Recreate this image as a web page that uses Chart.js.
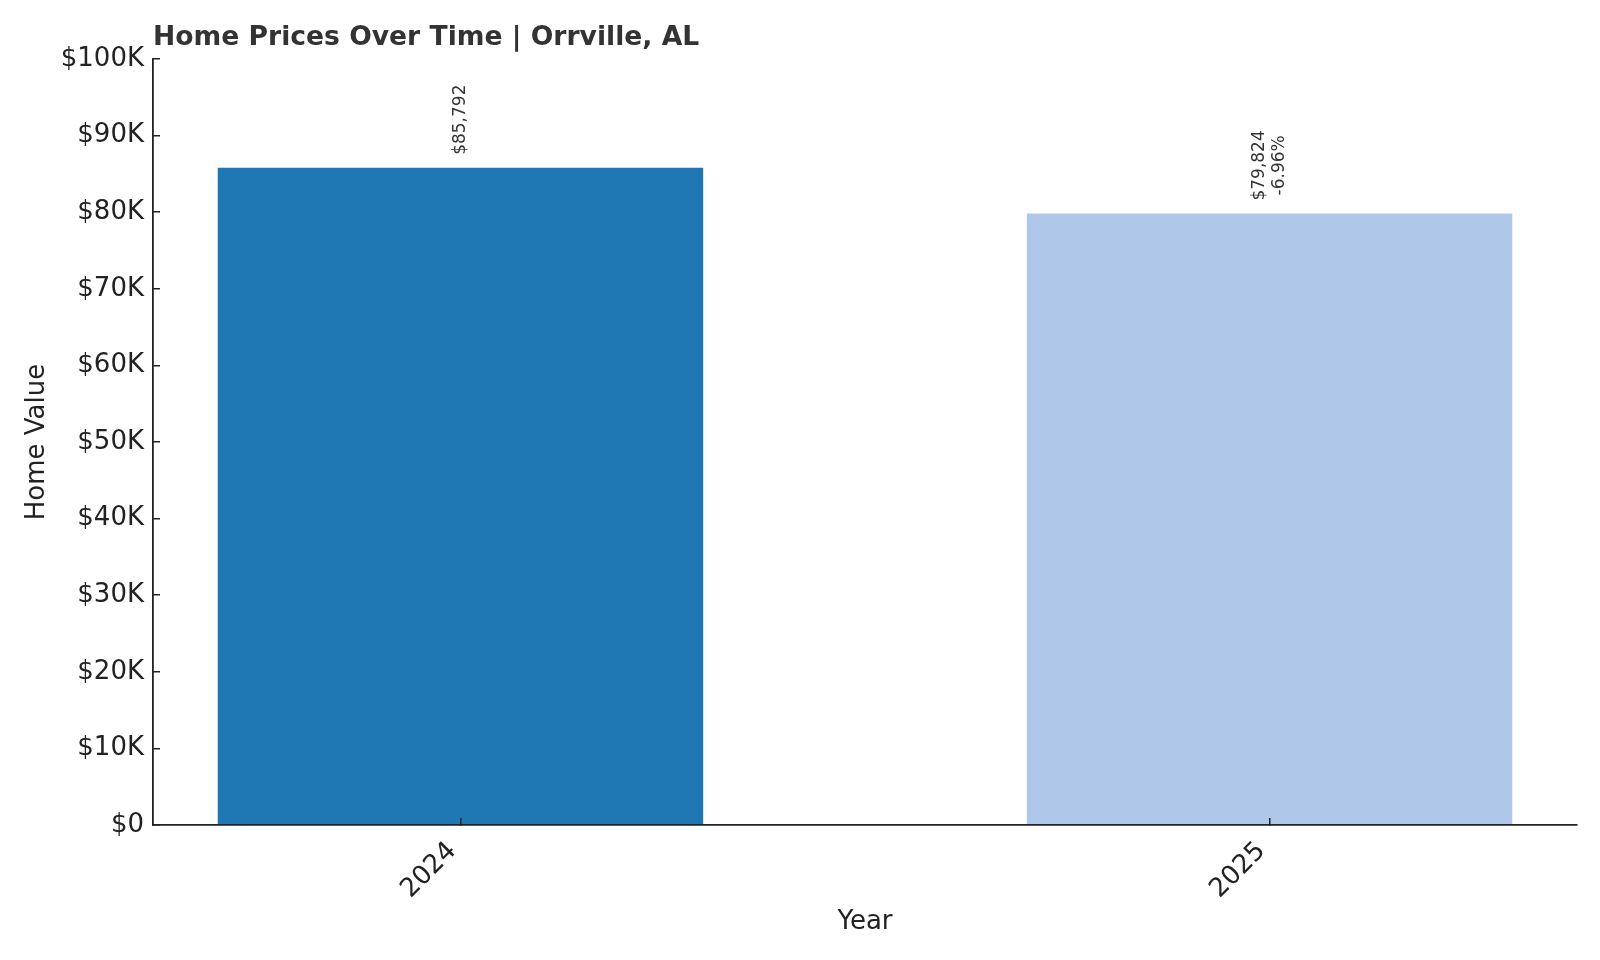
<!DOCTYPE html>
<html>
<head>
<meta charset="utf-8">
<title>Home Prices Over Time | Orrville, AL</title>
<script src="https://cdn.jsdelivr.net/npm/chart.js@4.4.1/dist/chart.umd.min.js"></script>
<style>
  html, body { margin: 0; padding: 0; background: #fff; }
</style>
</head>
<body>
<canvas id="priceChart" width="1600" height="960"></canvas>
<script>
// Chart data
const chartTitle = 'Home Prices Over Time | Orrville, AL';
const years = ['2024', '2025'];
const homeValues = [85792, 79824];
const changeLabels = ['', '-6.96%'];
const barColors = ['#1f77b4', '#aec7e8'];
const yTickLabels = ['$0', '$10K', '$20K', '$30K', '$40K', '$50K', '$60K', '$70K', '$80K', '$90K', '$100K'];

const FONT = 'DejaVu Sans';
const INK = '#222222';

// Title drawn flush with the left edge of the plot area
const titlePlugin = {
    id: 'leftTitle',
    afterDraw(chart) {
        const ctx = chart.ctx;
        ctx.save();
        ctx.font = `bold 26.6px "${FONT}"`;
        ctx.fillStyle = '#333333';
        ctx.textAlign = 'left';
        ctx.textBaseline = 'alphabetic';
        ctx.fillText(chartTitle, chart.chartArea.left, 45);
        ctx.restore();
    }
};

// Rotated value labels above each bar
const barLabels = {
    id: 'barLabels',
    afterDatasetsDraw(chart) {
        const ctx = chart.ctx;
        const meta = chart.getDatasetMeta(0);
        ctx.save();
        ctx.font = `17px "${FONT}"`;
        ctx.fillStyle = '#333333';
        ctx.textAlign = 'center';
        ctx.textBaseline = 'middle';
        meta.data.forEach((bar, i) => {
            const lines = ['$' + homeValues[i].toLocaleString('en-US')];
            if (changeLabels[i]) lines.push(changeLabels[i]);
            const w = Math.max(...lines.map(t => ctx.measureText(t).width));
            ctx.save();
            ctx.translate(bar.x, bar.y - 13);
            ctx.rotate(-Math.PI / 2);
            lines.forEach((t, j) => {
                ctx.fillText(t, w / 2, (j - (lines.length - 1) / 2) * 19.5);
            });
            ctx.restore();
        });
        ctx.restore();
    }
};

const tickFont = { family: FONT, size: 26 };

new Chart(document.getElementById('priceChart'), {
    type: 'bar',
    data: {
        datasets: [{
            data: homeValues.map((v, i) => ({ x: i, y: v })),
            backgroundColor: barColors,
            borderWidth: 0,
            categoryPercentage: 1,
            barPercentage: 0.6
        }]
    },
    options: {
        responsive: false,
        animation: false,
        events: [],
        layout: { padding: { top: 59, right: 23, bottom: 0, left: 0 } },
        plugins: {
            legend: { display: false },
            title: { display: false },
            tooltip: { enabled: false }
        },
        scales: {
            x: {
                type: 'linear',
                min: -0.38,
                max: 1.38,
                offset: false,
                afterFit: s => { s.height = 135; },
                // z: 1 so the short inward ticks and the spine sit on top of the bars
                grid: { drawOnChartArea: false, offset: false, tickLength: -7, color: INK, lineWidth: 1.5, z: 1 },
                border: { display: true, color: INK, width: 1.8, z: 1 },
                ticks: {
                    stepSize: 1,
                    includeBounds: false,
                    autoSkip: false,
                    maxRotation: 45,
                    minRotation: 45,
                    padding: 18,
                    labelOffset: -8,
                    color: INK,
                    font: tickFont,
                    callback: v => years[v] ?? ''
                },
                title: { display: true, text: 'Year', color: INK, font: tickFont, padding: { top: 0, bottom: 22 } }
            },
            y: {
                min: 0,
                max: 100000,
                afterFit: s => { s.width = 153; },
                grid: { drawOnChartArea: false, tickLength: -7, color: INK, lineWidth: 1.5, z: 1 },
                border: { display: true, color: INK, width: 1.8, z: 1 },
                ticks: {
                    stepSize: 10000,
                    padding: 16,
                    color: INK,
                    font: tickFont,
                    callback: (v, i) => yTickLabels[i]
                },
                title: { display: true, text: 'Home Value', color: INK, font: tickFont, padding: { top: 22, bottom: 0 } }
            }
        }
    },
    plugins: [barLabels, titlePlugin]
});
</script>
</body>
</html>
